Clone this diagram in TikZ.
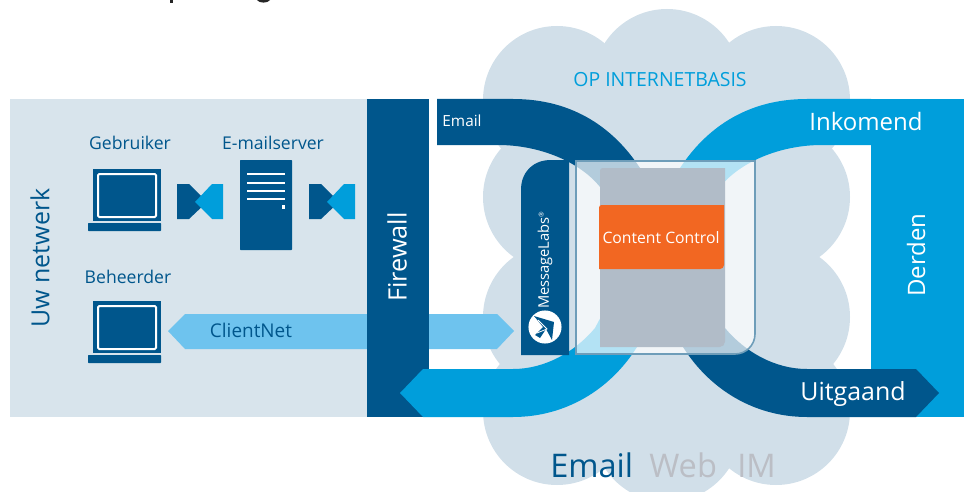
\documentclass[tikz,border=0pt]{standalone}
\usepackage{fontspec}
\setmainfont{Open Sans}
\definecolor{darkband}{HTML}{00568C}
\definecolor{lightband}{HTML}{009EDB}
\definecolor{paleband}{HTML}{6EC3EE}
\definecolor{netpanel}{HTML}{D8E4EC}
\definecolor{cloudfill}{HTML}{D1DFE9}
\definecolor{glassline}{HTML}{6E9DB9}
\definecolor{greypanel}{HTML}{B1BCC8}
\definecolor{orangepanel}{HTML}{F26722}
\definecolor{greytext}{HTML}{BBBEC5}
\tikzset{
  labeltext/.style={inner sep=0pt, text=darkband, font=\fontsize{13.2}{16}\selectfont},
  whitetext/.style={inner sep=0pt, text=white, font=\fontsize{#1}{20}\selectfont},
  bigtext/.style={inner sep=0pt, font=\fontsize{24.4}{30}\selectfont},
  screenline/.style={draw=white, line width=1.5pt, rounded corners=1pt},
}
\begin{document}
\begin{tikzpicture}[x=0.75pt,y=-0.75pt]

\useasboundingbox (0,0) rectangle (964,492);
\clip (0,0) rectangle (964,492);

% clipped end of the title above the picture
\fill[black!85] (170,0) rectangle (173,3);
\fill[black!85] (257,0) .. controls (259,3.5) and (268,3.5) .. (270,0) -- cycle;

% cloud
\foreach \u/\v in {557/100,557/197,557/317,557/411,667/83,667/428,776/100,776/197,776/317,776/411}{%
   \fill[cloudfill] (\u,\v) circle (55.5pt);
}
\fill[cloudfill] (557,100) rectangle (776,411);

% own network
\fill[netpanel] (10,99) rectangle (367,417);

\fill[paleband] (168,331) -- (185,314) -- (497,314) -- (514,331) -- (497,349) -- (185,349) -- cycle;
\fill[darkband] (367,99) rectangle (429,417);
\fill[lightband] (871,99) rectangle (964,417);

% the two crossing bands
\fill[darkband] (437,99) -- (513,99) .. controls (575,99) and (615,130) .. (640,168) -- (725,328)
   .. controls (745,352) and (775,369) .. (807,369) -- (916,369) -- (939,393) -- (916,417) -- (807,417)
   .. controls (755,417) and (710,390) .. (683,347) -- (600,187)
   .. controls (580,162) and (540,145) .. (498,145) -- (437,145) -- cycle;
\fill[lightband] (871,99) -- (807,99) .. controls (745,99) and (705,130) .. (680,168) -- (595,328)
   .. controls (575,352) and (545,369) .. (513,369) -- (423,369) -- (400,393) -- (423,417) -- (513,417)
   .. controls (565,417) and (610,390) .. (637,347) -- (720,187)
   .. controls (740,162) and (780,145) .. (822,145) -- (871,145) -- cycle;

% glass box with the panels
\fill[darkband] (569,160) -- (551,160) .. controls (533,160) and (521,172) .. (521,190) -- (521,355) -- (569,355) -- cycle;
\draw[glassline, line width=1.2pt, fill=white, fill opacity=0.7] (576,354) -- (576,161) -- (755,161)
   [rounded corners=15pt] -- (755,354) [sharp corners] -- cycle;
\fill[greypanel] (600,347) [rounded corners=2pt] -- (600,168) [sharp corners] -- (725,168)
   [rounded corners=4pt] -- (725,347) [sharp corners] -- cycle;
\fill[orangepanel] (599,269) [rounded corners=2pt] -- (599,205) [sharp corners] -- (724,205)
   [rounded corners=3pt] -- (724,269) [sharp corners] -- cycle;

% logo
\fill[white] (545,327) circle (12.4pt);
\fill[darkband] (534,316) -- (554,322) -- (552,340) -- (546,329) -- (540,338) -- (535,335) -- (543,327) -- cycle;
\draw[white, line width=0.6pt] (538,320) -- (547,329) -- (537,333);

% laptops
\foreach \v in {0,132}{%
  \begin{scope}[shift={(0,\v)}]
    \fill[darkband] (93,169) rectangle (161,221);
    \draw[screenline] (98,174) rectangle (156,217);
    \fill[darkband, rounded corners=0.5pt] (88,223) rectangle (161,231);
  \end{scope}
}

% server
\fill[darkband, rounded corners=0.5pt] (240,160) rectangle (292,250);
\foreach \v in {174,183,191,199}{%
   \draw[white, line width=1.3pt] (247,\v) -- (285,\v);
}
\fill[white] (282,205) rectangle (285,209);

% link marks
\foreach \u in {0,132}{%
  \begin{scope}[shift={(\u,0)}]
    \fill[darkband] (177,184) -- (189,184) -- (207,202) -- (189,219) -- (177,219) -- cycle;
    \fill[lightband] (223,184) -- (212,184) -- (195,202) -- (212,219) -- (223,219) -- cycle;
  \end{scope}
}

% texts
\node[labeltext] (gebruiker) at (130,143) {Gebruiker};
\node[labeltext] (mailserver) at (273,143) {E-mailserver};
\node[labeltext] (beheerder) at (128,277) {Beheerder};
\node[labeltext, font=\fontsize{14.2}{16}\selectfont] (clientnet) at (251,330) {ClientNet};
\node[labeltext, rotate=90, font=\fontsize{18.7}{24}\selectfont] (uwnetwerk) at (40,258) {Uw netwerk};
\node[whitetext=19, rotate=90] (firewall) at (397,257) {Firewall};
\node[whitetext=11.5] (emailtab) at (462,121) {Email};
\node[labeltext, text=lightband, font=\fontsize{14.6}{16}\selectfont] (basis) at (660,80) {OP INTERNETBASIS};
\node[whitetext=18] (inkomend) at (866,122) {Inkomend};
\node[whitetext=18, rotate=90] (derden) at (916,255) {Derden};
\node[whitetext=18.7, anchor=base] (uitgaand) at (853,400) {Uitgaand};
\node[whitetext=11.8] (control) at (661,238) {Content Control};
\node[whitetext=11, rotate=90] (labs) at (545,260) {MessageLabs\textsuperscript{\tiny ®}};
\node[bigtext, text=darkband, anchor=base west] (bigemail) at (550,477) {Email};
\node[bigtext, text=greytext, anchor=base west] (bigweb) at (649,477) {Web};
\node[bigtext, text=greytext, anchor=base west] (bigim) at (737,477) {IM};

\end{tikzpicture}
\end{document}
